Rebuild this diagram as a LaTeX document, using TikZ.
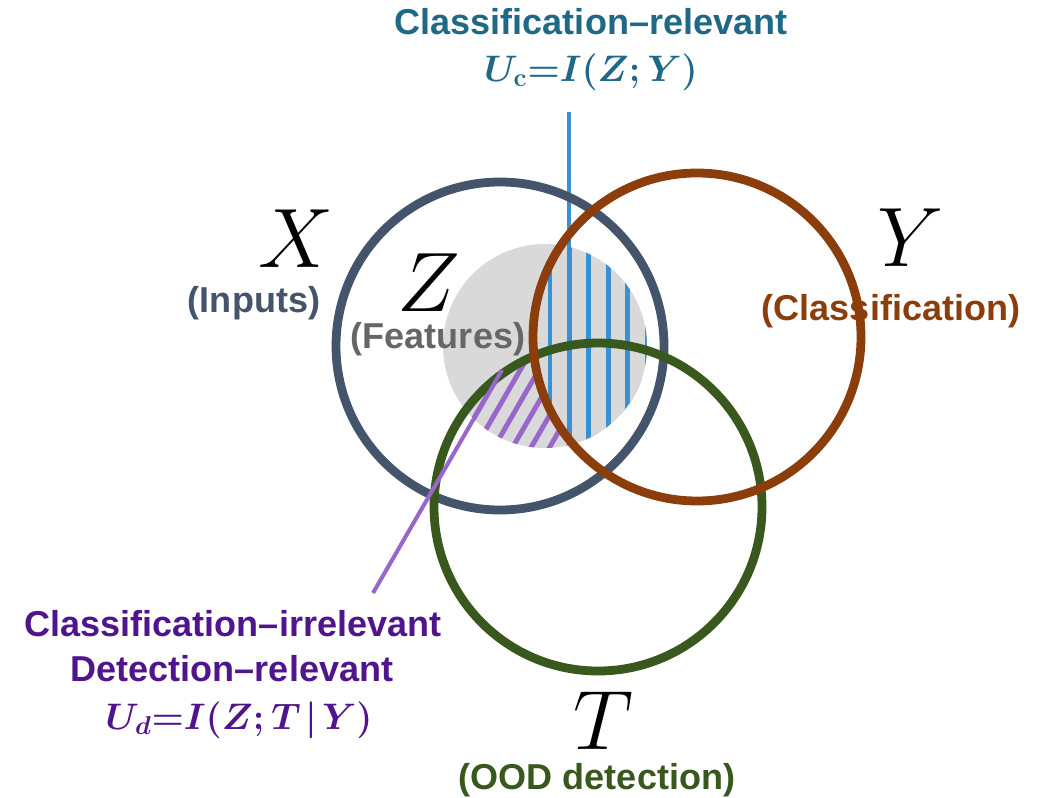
\RequirePackage{fix-cm}
\documentclass[tikz,border=0pt]{standalone}
\usepackage{fontspec}
\usepackage{tikz}
\usetikzlibrary{positioning}
\newfontfamily\labelsans{Liberation Sans}
\definecolor{setX}{RGB}{68,84,106}
\definecolor{setY}{RGB}{139,62,12}
\definecolor{setT}{RGB}{56,88,30}
\definecolor{featGray}{RGB}{217,217,217}
\definecolor{featText}{RGB}{102,102,102}
\definecolor{relBlue}{RGB}{55,145,210}
\definecolor{relText}{RGB}{31,105,135}
\definecolor{irrPurple}{RGB}{153,102,204}
\definecolor{irrText}{RGB}{80,20,140}

\begin{document}
\begin{tikzpicture}[x=0.02cm,y=-0.02cm,
    setname/.style={font=\fontsize{48}{50}\selectfont},
    setdesc/.style={font=\labelsans\bfseries\fontsize{20.5}{24}\selectfont},
    infoterm/.style={font=\fontsize{21}{24}\selectfont\boldmath},
    ring/.style={line width=5pt},
    hatch/.style={line width=2.8pt},
    leader/.style={line width=2.3pt}]
  \useasboundingbox (0,0) rectangle (1043,797);
  \coordinate (cX) at (500,346);
  \coordinate (cY) at (697,337);
  \coordinate (cT) at (598,507);
  \coordinate (cZ) at (545,346);

  % features Z as a grey disc
  \fill[featGray] (cZ) circle (102);
  % detection-relevant part: Z and T outside Y
  \begin{scope}
    \clip (cZ) circle (102);
    \clip (cT) circle (164);
    \foreach \k in {0,...,12}
      \draw[irrPurple,hatch] (373+18.5*\k,593) -- ++(-60:420);
    \fill[featGray] (cY) circle (164);
  \end{scope}
  % classification-relevant part: Z and Y
  \begin{scope}
    \clip (cZ) circle (102);
    \clip (cY) circle (164);
    \foreach \k in {0,...,5}
      \draw[relBlue,hatch] (550+19.4*\k,230) -- (550+19.4*\k,460);
  \end{scope}

  % leader to the top label
  \coordinate (cTop) at (569,112);
  \coordinate (cIn) at (569,300);
  \draw[relBlue,leader] (cTop) -- (cIn);

  % the three sets
  \draw[setX,ring] (cX) circle (164);
  \draw[setT,ring] (cT) circle (164);
  \draw[setY,ring] (cY) circle (164);

  % leader to the bottom-left label
  \coordinate (dFoot) at (373,593);
  \coordinate (dTip) at (502,370);
  \draw[irrPurple,leader] (dFoot) -- (dTip);

  \node[setname] (xname) at (296,239) {$X$};
  \node[setdesc,text=setX] (xdesc) at (254,303) {(Inputs)};
  \node[setname] (zname) at (429,283) {$Z$};
  \node[setdesc,text=featText] (zdesc) at (438,339) {(Features)};
  \node[setname] (yname) at (911,238) {$Y$};
  \node[setdesc,text=setY] (ydesc) at (891,311) {(Classification)};
  \node[setname] (tname) at (603,721) {$T$};
  \node[setdesc,text=setT] (tdesc) at (597,780) {(OOD detection)};

  \node[setdesc,text=relText] (crel) at (591,22) {Classification–relevant};
  \node[infoterm,text=relText] (uc) at (591,72) {$U_{\mathbf{c}}{=}I(Z;Y)$};
  \node[setdesc,text=irrText] (cirr) at (233,624) {Classification–irrelevant};
  \node[setdesc,text=irrText] (drel) at (232,669) {Detection–relevant};
  \node[infoterm,text=irrText] (ud) at (239,720) {$U_{d}{=}I(Z;T\mkern2mu|\mkern2mu Y)$};
\end{tikzpicture}
\end{document}
